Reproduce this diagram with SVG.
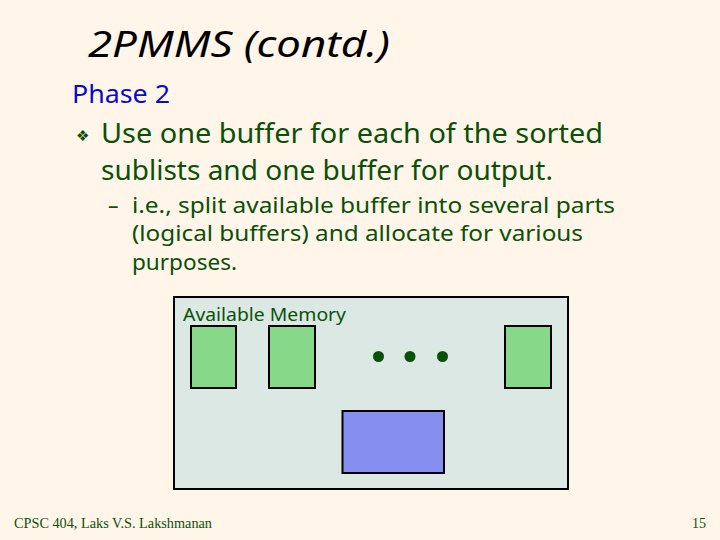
<svg xmlns="http://www.w3.org/2000/svg" width="720" height="540" viewBox="0 0 720 540">
<style>
.t{font-family:"Noto Sans","DejaVu Sans",sans-serif;fill:#0A500A}
.buf{fill:#88D88A;stroke:#000;stroke-width:2}
.dot{fill:#0A500A}
</style>
<rect width="720" height="540" fill="#FFF5E8"/>
<text x="88" y="57" font-family="'Noto Sans','DejaVu Sans',sans-serif" font-style="italic" font-size="36" fill="#000" textLength="302" lengthAdjust="spacingAndGlyphs">2PMMS (contd.)</text>
<text x="72" y="103" font-family="'Noto Sans','DejaVu Sans',sans-serif" font-size="26" fill="#0A0ACC" textLength="98" lengthAdjust="spacingAndGlyphs">Phase 2</text>
<text x="76" y="141" font-family="'DejaVu Sans',sans-serif" font-size="15" fill="#0A500A">❖</text>
<text class="t" x="101" y="143" font-size="28" textLength="502" lengthAdjust="spacingAndGlyphs">Use one buffer for each of the sorted</text>
<text class="t" x="101" y="180" font-size="28" textLength="452" lengthAdjust="spacingAndGlyphs">sublists and one buffer for output.</text>
<text class="t" x="108" y="213" font-size="21">–</text>
<text class="t" x="132" y="213" font-size="21" textLength="483" lengthAdjust="spacingAndGlyphs">i.e., split available buffer into several parts</text>
<text class="t" x="132" y="241" font-size="21" textLength="451" lengthAdjust="spacingAndGlyphs">(logical buffers) and allocate for various</text>
<text class="t" x="132" y="270" font-size="21" textLength="105" lengthAdjust="spacingAndGlyphs">purposes.</text>
<g id="memory">
<rect x="174" y="297" width="394" height="192" fill="#DCE8E4" stroke="#000" stroke-width="2"/>
<text class="t" x="183" y="321" font-size="18" textLength="163" lengthAdjust="spacingAndGlyphs">Available Memory</text>
</g>
<g id="buffer1"><rect class="buf" x="191" y="326" width="45" height="62"/></g>
<g id="buffer2"><rect class="buf" x="269" y="326" width="46" height="62"/></g>
<g id="dots">
<circle class="dot" cx="378.5" cy="356.5" r="5.5"/>
<circle class="dot" cx="410" cy="356.5" r="5.5"/>
<circle class="dot" cx="442.5" cy="356.5" r="5.5"/>
</g>
<g id="buffer3"><rect class="buf" x="505" y="326" width="46" height="62"/></g>
<g id="output"><rect x="342.5" y="411" width="101.5" height="62" fill="#868EF0" stroke="#000" stroke-width="2"/></g>
<g id="connectors"/>
<text x="14" y="528" font-family="'Liberation Serif',serif" font-size="14" fill="#0A500A" textLength="198" lengthAdjust="spacingAndGlyphs">CPSC 404, Laks V.S. Lakshmanan</text>
<text x="706" y="528" font-family="'Liberation Serif',serif" font-size="14" fill="#0A500A" text-anchor="end">15</text>
</svg>
